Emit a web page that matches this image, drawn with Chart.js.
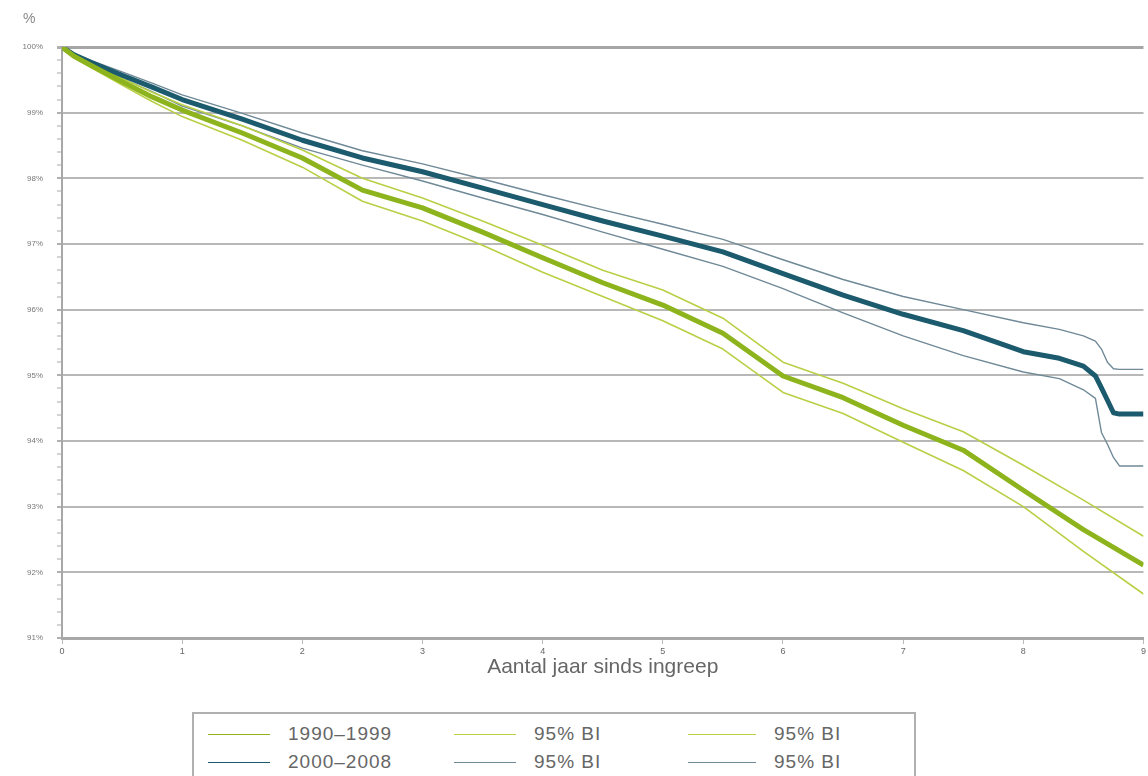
<!DOCTYPE html>
<html>
<head>
<meta charset="utf-8">
<script src="https://cdn.jsdelivr.net/npm/chart.js@4/dist/chart.umd.min.js"></script>
<style>
    body { margin: 0; background: #fff; font-family: "Liberation Sans", Arial, sans-serif; }
    #wrap { position: relative; width: 1148px; height: 776px; overflow: hidden; }
    #pct { position: absolute; left: 23px; top: 10px; font-size: 14px; color: #888; }
    #legend {
        position: absolute; left: 192px; top: 712px; width: 724px; height: 90px;
        border: 2px solid #b0b0b0; box-sizing: border-box;
    }
    .item { position: absolute; height: 24px; display: flex; align-items: center; }
    .item .swatch { height: 0; margin-right: 18px; }
    .item span { font-size: 19px; color: #666; letter-spacing: 1px; }
</style>
</head>
<body>
<div id="wrap">
    <canvas id="chart" width="1148" height="682"></canvas>
    <div id="pct">%</div>
    <div id="legend"></div>
</div>
<script>
// Years since surgery
const greenYears = [0, 0.1, 0.25, 0.5, 0.75, 1, 1.5, 2, 2.5, 3, 3.5, 4, 4.5, 5, 5.5, 6, 6.5, 7, 7.5, 8, 8.5, 9];
const greenMain = [100, 99.86, 99.71, 99.47, 99.24, 99.04, 98.69, 98.31, 97.82, 97.55, 97.18, 96.79, 96.41, 96.07, 95.64, 94.99, 94.66, 94.24, 93.86, 93.25, 92.65, 92.11];
const greenUpper = [100, 99.88, 99.74, 99.52, 99.31, 99.12, 98.8, 98.43, 98.0, 97.7, 97.35, 96.98, 96.6, 96.3, 95.87, 95.2, 94.88, 94.49, 94.14, 93.63, 93.1, 92.55];
const greenLower = [100, 99.84, 99.68, 99.42, 99.17, 98.94, 98.58, 98.17, 97.65, 97.35, 96.98, 96.57, 96.2, 95.83, 95.4, 94.74, 94.42, 93.98, 93.55, 93.0, 92.32, 91.67];

const blueYears = [0, 0.1, 0.25, 0.5, 0.75, 1, 1.5, 2, 2.5, 3, 3.5, 4, 4.5, 5, 5.5, 6, 6.5, 7, 7.5, 8, 8.3, 8.5, 8.6, 8.65, 8.7, 8.75, 8.8, 9];
const blueMain = [100, 99.88, 99.76, 99.57, 99.39, 99.2, 98.9, 98.58, 98.31, 98.1, 97.85, 97.6, 97.35, 97.12, 96.88, 96.55, 96.22, 95.93, 95.68, 95.36, 95.26, 95.14, 94.99, 94.81, 94.62, 94.43, 94.41, 94.41];
const blueUpper = [100, 99.9, 99.79, 99.62, 99.45, 99.27, 98.99, 98.69, 98.42, 98.22, 97.99, 97.75, 97.52, 97.3, 97.07, 96.76, 96.46, 96.2, 96.0, 95.8, 95.7, 95.6, 95.52, 95.4, 95.2, 95.1, 95.09, 95.09];
const blueLower = [100, 99.86, 99.73, 99.52, 99.32, 99.1, 98.8, 98.46, 98.2, 97.96, 97.7, 97.45, 97.18, 96.92, 96.66, 96.32, 95.95, 95.6, 95.3, 95.05, 94.95, 94.78, 94.65, 94.13, 93.95, 93.75, 93.62, 93.62];

const xTicks = [0, 1, 2, 3, 4, 5, 6, 7, 8, 9];
const yMin = 91;
const yMax = 100;

const greenColor = '#8db41c';
const greenCiColor = '#b9cf45';
const blueColor = '#1c5b6e';
const blueCiColor = '#6f8997';

function toPoints(xs, ys) {
    return xs.map((x, i) => ({ x: x, y: ys[i] }));
}

function isWhole(v) {
    return Math.abs(v - Math.round(v)) < 1e-6;
}

const datasets = [
    { label: '1990–1999', data: toPoints(greenYears, greenMain), borderColor: greenColor, borderWidth: 5, order: 0 },
    { label: '95% BI', data: toPoints(greenYears, greenUpper), borderColor: greenCiColor, borderWidth: 1.6, order: 1 },
    { label: '95% BI', data: toPoints(greenYears, greenLower), borderColor: greenCiColor, borderWidth: 1.6, order: 1 },
    { label: '2000–2008', data: toPoints(blueYears, blueMain), borderColor: blueColor, borderWidth: 5, order: 0 },
    { label: '95% BI', data: toPoints(blueYears, blueUpper), borderColor: blueCiColor, borderWidth: 1.4, order: 1 },
    { label: '95% BI', data: toPoints(blueYears, blueLower), borderColor: blueCiColor, borderWidth: 1.4, order: 1 }
];
datasets.forEach(ds => {
    ds.pointRadius = 0;
    ds.fill = false;
    ds.tension = 0;
    ds.borderJoinStyle = 'round';
});

const ctx = document.getElementById('chart').getContext('2d');
const chart = new Chart(ctx, {
    type: 'line',
    data: { datasets: datasets },
    options: {
        responsive: false,
        animation: false,
        layout: { padding: { top: 47, right: 2, left: 0, bottom: 0 } },
        plugins: { legend: { display: false }, tooltip: { enabled: false } },
        scales: {
            x: {
                type: 'linear',
                min: 0,
                max: 9,
                afterBuildTicks: scale => { scale.ticks = xTicks.map(v => ({ value: v })); },
                afterFit: scale => { scale.height = 44; },
                ticks: { color: '#666', font: { size: 9 }, padding: 2 },
                grid: { drawOnChartArea: false, tickLength: 6, tickColor: '#bbb' },
                border: { color: '#a8a8a8', width: 3 },
                title: {
                    display: true,
                    text: 'Aantal jaar sinds ingreep',
                    color: '#666',
                    font: { size: 21 },
                    padding: { top: 4, bottom: 2 }
                }
            },
            y: {
                min: yMin,
                max: yMax,
                afterFit: scale => { scale.width = 62; },
                ticks: {
                    stepSize: 0.2,
                    autoSkip: false,
                    color: '#777',
                    font: { size: 8 },
                    padding: 14,
                    callback: v => isWhole(v) ? Math.round(v) + '%' : ''
                },
                grid: {
                    tickLength: 5,
                    tickColor: c => isWhole(c.tick.value) ? '#b0b0b0' : '#d4d4d4',
                    color: c => isWhole(c.tick.value) ? (c.tick.value === yMax ? '#a6a6a6' : '#b8b8b8') : 'rgba(0,0,0,0)',
                    lineWidth: c => c.tick.value === yMax ? 3 : 2
                },
                border: { color: '#a8a8a8', width: 2 }
            }
        }
    }
});

// Legend: 2 rows x 3 columns, built from the datasets
const legend = document.getElementById('legend');
const colLeft = [14, 260, 494];
const swatchWidth = [62, 62, 68];
datasets.forEach((ds, i) => {
    const row = Math.floor(i / 3);
    const col = i % 3;
    const item = document.createElement('div');
    item.className = 'item';
    item.style.left = colLeft[col] + 'px';
    item.style.top = (8 + row * 28) + 'px';
    item.innerHTML = `<div class="swatch" style="width:${swatchWidth[col]}px;border-top:1.5px solid ${ds.borderColor}"></div><span>${ds.label}</span>`;
    legend.appendChild(item);
});
</script>
</body>
</html>
